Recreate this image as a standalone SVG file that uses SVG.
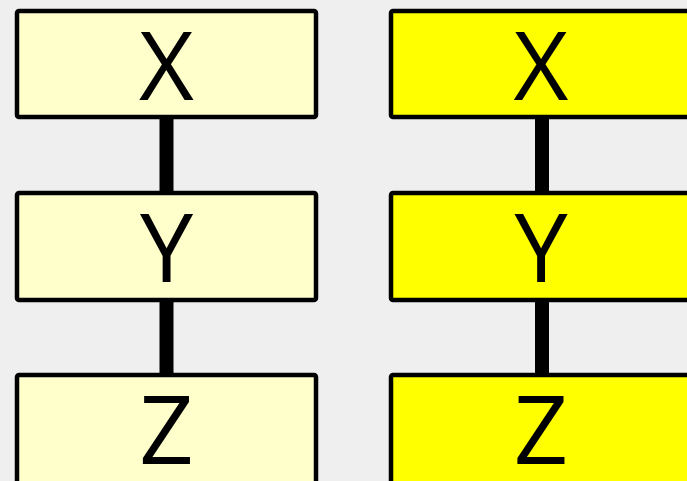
<svg xmlns="http://www.w3.org/2000/svg" width="687" height="481" viewBox="0 0 687 481">
<style>
.box{stroke:#000;stroke-width:4.5}
.pale{fill:#FFFFCC}
.bright{fill:#FFFF00}
.lbl{font-family:"Open Sans","DejaVu Sans",sans-serif;font-size:95px;fill:#000;text-anchor:middle}
.conn{stroke:#000;stroke-width:14}
</style>
<rect width="687" height="481" fill="#EFEFEF"/>
<g id="connectors">
<line class="conn" x1="166.5" y1="117" x2="166.5" y2="193"/>
<line class="conn" x1="166.5" y1="300" x2="166.5" y2="375"/>
<line class="conn" x1="542" y1="117" x2="542" y2="193"/>
<line class="conn" x1="542" y1="300" x2="542" y2="375"/>
</g>
<g id="lx"><rect class="box pale" x="17" y="11" width="299" height="106" rx="2"/><text class="lbl" x="166.5" y="100">X</text></g>
<g id="ly"><rect class="box pale" x="17" y="193" width="299" height="107" rx="2"/><text class="lbl" x="166.5" y="282">Y</text></g>
<g id="lz"><rect class="box pale" x="17" y="375" width="299" height="120" rx="2"/><text class="lbl" x="166.5" y="464">Z</text></g>
<g id="rx"><rect class="box bright" x="391" y="11" width="299" height="106" rx="2"/><text class="lbl" x="541" y="100">X</text></g>
<g id="ry"><rect class="box bright" x="391" y="193" width="299" height="107" rx="2"/><text class="lbl" x="541" y="282">Y</text></g>
<g id="rz"><rect class="box bright" x="391" y="375" width="299" height="120" rx="2"/><text class="lbl" x="541" y="464">Z</text></g>
</svg>
